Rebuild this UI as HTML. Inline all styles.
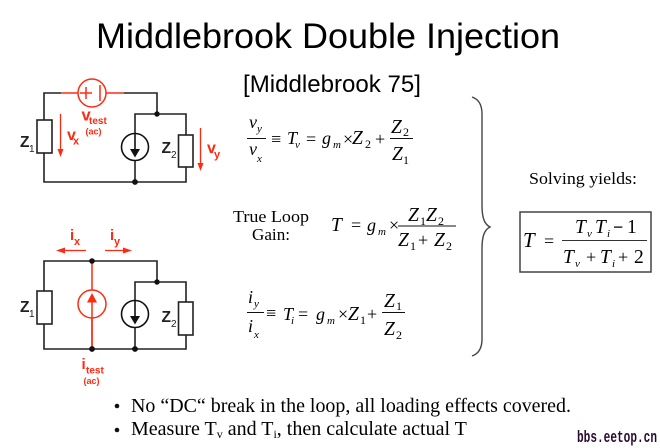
<!DOCTYPE html>
<html><head><meta charset="utf-8"><style>
html,body{margin:0;padding:0;background:#fff;width:660px;height:448px;overflow:hidden}
svg{display:block}
.s{font-family:"Liberation Sans",sans-serif}
.t{font-family:"Liberation Serif",serif}
.i{font-family:"Liberation Serif",serif;font-style:italic;font-size:18px}
.z{font-family:"Liberation Serif",serif;font-style:italic;font-size:19.5px}
.u{font-family:"Liberation Serif",serif;font-style:italic;font-size:11px}
.n{font-family:"Liberation Serif",serif;font-size:12px}
.o{font-family:"Liberation Serif",serif;font-size:18px}
.b{font-family:"Liberation Sans",sans-serif;font-weight:bold}
.l{font-family:"Liberation Sans",sans-serif;font-size:10px;fill:#222}
.r{fill:#ff2a10}
</style></head><body>
<svg width="660" height="448" viewBox="0 0 660 448" xmlns="http://www.w3.org/2000/svg">
<defs>
<g id="cs"><circle cx="0" cy="0" r="13.5" fill="#fff" stroke="#111" stroke-width="1.6"/><path d="M0-13V5" stroke="#111" stroke-width="1.6"/><path d="M-5 2H5L0 10.500Z" fill="#111"/></g>
</defs>
<text class="s" x="96" y="48" font-size="35.5" textLength="464" lengthAdjust="spacingAndGlyphs">Middlebrook Double Injection</text>
<text class="s" x="243" y="92" font-size="24" textLength="178" lengthAdjust="spacingAndGlyphs">[Middlebrook 75]</text>

<!-- top circuit -->
<g fill="none" stroke="#222" stroke-width="1.6">
<path d="M61 93H44V182H186V114H135V182M124 93H157V114"/>
</g>
<path d="M61 93H124" stroke="#ff2a10" stroke-width="1.5"/>
<circle cx="92" cy="93" r="14" fill="#fff" stroke="#ff2a10" stroke-width="1.5"/>
<path d="M80 93H92M86 87V99M100 85V101" stroke="#ff2a10" stroke-width="1.5" fill="none"/>
<rect x="37" y="120" width="15" height="33" fill="#fff" stroke="#222" stroke-width="1.6"/>
<rect x="178.500" y="135" width="14.500" height="32" fill="#fff" stroke="#222" stroke-width="1.6"/>
<use href="#cs" x="135" y="147"/>
<circle cx="157" cy="114" r="2.700" fill="#111"/><circle cx="135" cy="182" r="2.900" fill="#111"/>
<path d="M60.500 114V150" stroke="#ff2a10" stroke-width="1.3"/><path d="M57.500 149H63.500L60.500 157Z" class="r"/>
<path d="M200.500 128V165" stroke="#ff2a10" stroke-width="1.3"/><path d="M197.500 163H203.500L200.500 171Z" class="r"/>
<text class="b" x="20" y="147" font-size="15.500" fill="#222">Z</text><text class="l" x="29" y="152">1</text>
<text class="b" x="161.500" y="153" font-size="15.500" fill="#222">Z</text><text class="l" x="171" y="158">2</text>
<text class="b r" x="67" y="140" font-size="16">v</text><text class="b r" x="73" y="144.500" font-size="11">x</text>
<text class="b r" x="207" y="153" font-size="16">v</text><text class="b r" x="214" y="158" font-size="11">y</text>
<text class="b r" x="81.500" y="120.500" font-size="16.500">v</text><text class="b r" x="89" y="124" font-size="10">test</text>
<text class="b r" x="85.500" y="134.500" font-size="9">(ac)</text>

<!-- bottom circuit -->
<g fill="none" stroke="#222" stroke-width="1.6">
<path d="M92 261H44V349H186V282H135V349M92 261H157V282"/>
</g>
<path d="M92 261V349" stroke="#ff2a10" stroke-width="1.500"/>
<circle cx="92" cy="304" r="14" fill="#fff" stroke="#ff2a10" stroke-width="1.500"/>
<path d="M92 349V300" stroke="#ff2a10" stroke-width="1.500"/><path d="M87 302.500H97L92 293Z" class="r"/>
<rect x="37" y="291" width="15" height="33" fill="#fff" stroke="#222" stroke-width="1.6"/>
<rect x="178.500" y="302" width="14.500" height="33" fill="#fff" stroke="#222" stroke-width="1.6"/>
<use href="#cs" x="135" y="314"/>
<circle cx="92" cy="261" r="2.800" fill="#111"/><circle cx="157" cy="282" r="2.700" fill="#111"/><circle cx="92" cy="349" r="2.900" fill="#111"/><circle cx="135" cy="349" r="2.900" fill="#111"/>
<path d="M64 250.500H86" stroke="#ff2a10" stroke-width="1.3"/><path d="M56 250.500L65 247.500V253.500Z" class="r"/>
<path d="M105 250.500H125" stroke="#ff2a10" stroke-width="1.3"/><path d="M132 250.500L123 247.500V253.500Z" class="r"/>
<text class="b" x="20" y="312" font-size="15.500" fill="#222">Z</text><text class="l" x="29" y="317">1</text>
<text class="b" x="161.500" y="322" font-size="15.500" fill="#222">Z</text><text class="l" x="171" y="327">2</text>
<text class="b r" x="70" y="240" font-size="15">i</text><text class="b r" x="74" y="245" font-size="11">x</text>
<text class="b r" x="110" y="240" font-size="15">i</text><text class="b r" x="114" y="245" font-size="11">y</text>
<text class="b r" x="81.500" y="369" font-size="15">i</text><text class="b r" x="86" y="373.500" font-size="10">test</text>
<text class="b r" x="83.500" y="384" font-size="9">(ac)</text>

<!-- eq 1 -->
<text class="i" x="249" y="128">v</text><text class="u" x="257" y="132">y</text>
<path d="M247 138.500H266" stroke="#111"/>
<text class="i" x="249" y="155">v</text><text class="u" x="257" y="162">x</text>
<text class="o" x="271" y="145">≡</text>
<text class="i" x="287" y="144">T</text><text class="u" x="295" y="148">v</text>
<text class="o" x="306" y="145">=</text>
<text class="i" x="322" y="144">g</text><text class="u" x="333" y="148">m</text>
<text class="o" x="343" y="145">×</text>
<text class="z" x="352" y="144">Z</text><text class="n" x="365" y="148">2</text>
<text class="o" x="375" y="145">+</text>
<text class="z" x="391" y="133">Z</text><text class="n" x="403" y="136">2</text>
<path d="M390 138.500H413" stroke="#111"/>
<text class="z" x="392" y="160">Z</text><text class="n" x="403" y="164">1</text>

<!-- eq 2 -->
<text class="t" x="233" y="222" font-size="17" textLength="76" lengthAdjust="spacingAndGlyphs">True Loop</text>
<text class="t" x="252" y="240" font-size="17" textLength="38" lengthAdjust="spacingAndGlyphs">Gain:</text>
<text class="z" x="331" y="231">T</text>
<text class="o" x="351" y="231">=</text>
<text class="i" x="367" y="231">g</text><text class="u" x="378" y="235">m</text>
<text class="o" x="389" y="231">×</text>
<text class="z" x="408" y="221">Z</text><text class="n" x="420" y="225">1</text>
<text class="z" x="426" y="221">Z</text><text class="n" x="438" y="225">2</text>
<path d="M398 226H456" stroke="#111"/>
<text class="z" x="398" y="246">Z</text><text class="n" x="410" y="250">1</text>
<text class="o" x="418" y="246">+</text>
<text class="z" x="434" y="246">Z</text><text class="n" x="446" y="250">2</text>

<!-- eq 3 -->
<text class="i" x="248" y="303">i</text><text class="u" x="254" y="307">y</text>
<path d="M247 312.500H264" stroke="#111"/>
<text class="i" x="248" y="332">i</text><text class="u" x="254" y="338">x</text>
<text class="o" x="266" y="319">≡</text>
<text class="i" x="283" y="320">T</text><text class="u" x="291" y="324">i</text>
<text class="o" x="298" y="320">=</text>
<text class="i" x="316" y="320">g</text><text class="u" x="327" y="324">m</text>
<text class="o" x="338" y="320">×</text>
<text class="z" x="348" y="320">Z</text><text class="n" x="360" y="324">1</text>
<text class="o" x="367" y="320">+</text>
<text class="z" x="384" y="307">Z</text><text class="n" x="396" y="310">1</text>
<path d="M382 312.500H405" stroke="#111"/>
<text class="z" x="384" y="335">Z</text><text class="n" x="396" y="339">2</text>

<!-- brace -->
<path d="M472 97C478 99 482 104 482 114V205C482 217 484 224 490 227C484 230 482 237 482 249V339C482 349 478 354 472 356" fill="none" stroke="#444" stroke-width="1.400"/>

<!-- right -->
<text class="t" x="529" y="184" font-size="17" textLength="108" lengthAdjust="spacingAndGlyphs">Solving yields:</text>
<rect x="520" y="212" width="131" height="60" fill="#fff" stroke="#444" stroke-width="1.500"/>
<text class="z" x="523" y="247" style="font-size:21px">T</text>
<text class="o" x="544" y="247">=</text>
<path d="M562 240.500H647" stroke="#333"/>
<text class="z" x="575" y="233">T</text><text class="u" x="587" y="237">v</text>
<text class="z" x="595" y="233">T</text><text class="u" x="607" y="237">i</text>
<text class="o" x="613" y="233" font-weight="bold">−</text><text class="z" x="627" y="233" style="font-style:normal">1</text>
<text class="z" x="563" y="263">T</text><text class="u" x="575" y="267">v</text>
<text class="o" x="586" y="263">+</text>
<text class="z" x="600" y="263">T</text><text class="u" x="612" y="267">i</text>
<text class="o" x="618" y="263">+</text>
<text class="z" x="634" y="263" style="font-style:normal">2</text>

<!-- bullets -->
<circle cx="117" cy="406" r="2.300" fill="#111"/>
<circle cx="117" cy="430" r="2.300" fill="#111"/>
<text class="t" x="131" y="412" font-size="20" textLength="440" lengthAdjust="spacingAndGlyphs">No “DC“ break in the loop, all loading effects covered.</text>
<text class="t" x="131" y="435" font-size="20">Measure T<tspan font-size="12" dy="3">v</tspan><tspan dy="-3"> and T</tspan><tspan font-size="12" dy="3">i</tspan><tspan dy="-3">, then calculate actual T</tspan></text>
<text x="577" y="442" font-family="Liberation Mono,monospace" font-weight="bold" font-size="17" fill="#2a0a30" textLength="80" lengthAdjust="spacingAndGlyphs">bbs.eetop.cn</text>
</svg>
</body></html>
